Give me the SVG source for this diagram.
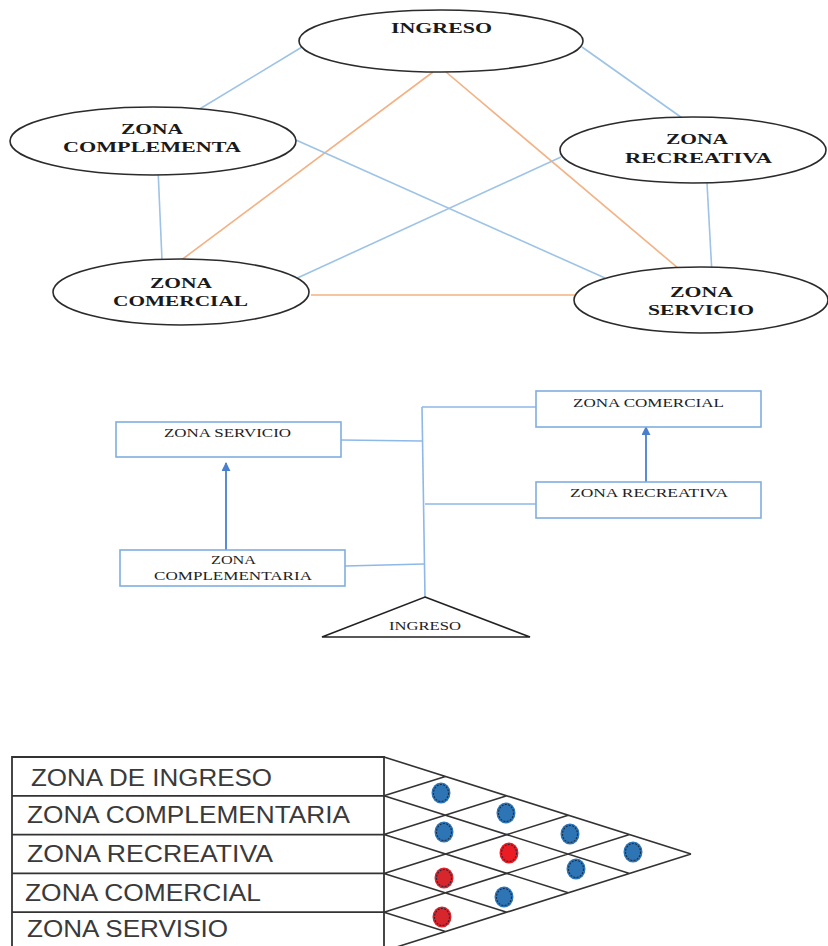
<svg xmlns="http://www.w3.org/2000/svg" width="828" height="946" viewBox="0 0 828 946">
<defs>
<style>
.ell{fill:#fff;stroke:#2b2b2b;stroke-width:1.6}
.t1{font-family:"Liberation Serif","Times New Roman",serif;font-weight:bold;font-size:15px;fill:#1a1a1a;text-anchor:middle}
.blue{stroke:#9DC3E6;stroke-width:1.6;fill:none}
.orange{stroke:#F4B183;stroke-width:1.6;fill:none}
.box{fill:#fff;stroke:#7FAEE0;stroke-width:1.6}
.t2{font-family:"Liberation Serif","Times New Roman",serif;font-size:12px;fill:#222;text-anchor:middle}
.con{stroke:#8DB8E8;stroke-width:1.6;fill:none}
.arr{stroke:#4A7FD0;stroke-width:1.8;fill:none}
.tri{fill:#fff;stroke:#222;stroke-width:1.6}
.tab{fill:none;stroke:#333;stroke-width:1.8}
.t3{font-family:"Liberation Sans",Arial,sans-serif;font-size:23.5px;fill:#3a3a3a}
.grid{stroke:#333;stroke-width:1.6;fill:none}
.db{fill:#2E75B6}
.dr{fill:#D7262C}
.dot{fill:none;stroke:#1c2a40;stroke-width:1.1;stroke-dasharray:2 1.3}
</style>
<marker id="ah" viewBox="0 0 10 10" refX="9" refY="5" markerWidth="5" markerHeight="5" orient="auto">
<path d="M0,0 L10,5 L0,10 z" fill="#4A7FD0"/>
</marker>
</defs>
<rect width="828" height="946" fill="#fff"/>

<!-- Section 1 connectors -->
<g id="connectors-top">
<line class="blue" x1="302" y1="47" x2="193" y2="113"/>
<line class="blue" x1="582" y1="47" x2="685" y2="120"/>
<line class="orange" x1="433" y1="72" x2="180" y2="261"/>
<line class="orange" x1="446" y1="72" x2="685" y2="274"/>
<line class="blue" x1="296" y1="140" x2="605" y2="278"/>
<line class="blue" x1="158" y1="169" x2="162" y2="260"/>
<line class="blue" x1="561" y1="157" x2="293" y2="280"/>
<line class="blue" x1="707" y1="183" x2="712" y2="274"/>
<line class="orange" x1="311" y1="295" x2="575" y2="295"/>
</g>

<g id="e-ingreso">
<ellipse class="ell" cx="441" cy="41" rx="142" ry="31"/>
<text class="t1" x="441.5" y="33" textLength="101" lengthAdjust="spacingAndGlyphs">INGRESO</text>
</g>
<g id="e-complementa">
<ellipse class="ell" cx="153" cy="141" rx="143" ry="34"/>
<text class="t1" x="152" y="134" textLength="62" lengthAdjust="spacingAndGlyphs">ZONA</text>
<text class="t1" x="152" y="152" textLength="178" lengthAdjust="spacingAndGlyphs">COMPLEMENTA</text>
</g>
<g id="e-recreativa">
<ellipse class="ell" cx="693" cy="150" rx="133" ry="33"/>
<text class="t1" x="697" y="144" textLength="62" lengthAdjust="spacingAndGlyphs">ZONA</text>
<text class="t1" x="698.5" y="163" textLength="147" lengthAdjust="spacingAndGlyphs">RECREATIVA</text>
</g>
<g id="e-comercial">
<ellipse class="ell" cx="181" cy="292" rx="128" ry="33"/>
<text class="t1" x="181" y="288" textLength="62" lengthAdjust="spacingAndGlyphs">ZONA</text>
<text class="t1" x="180.5" y="306" textLength="135" lengthAdjust="spacingAndGlyphs">COMERCIAL</text>
</g>
<g id="e-servicio">
<ellipse class="ell" cx="701" cy="300" rx="127" ry="33"/>
<text class="t1" x="701.5" y="297" textLength="63" lengthAdjust="spacingAndGlyphs">ZONA</text>
<text class="t1" x="701" y="315" textLength="106" lengthAdjust="spacingAndGlyphs">SERVICIO</text>
</g>

<!-- Section 2 -->
<g id="connectors-mid">
<line class="con" x1="422" y1="407" x2="425" y2="597"/>
<line class="con" x1="422" y1="407" x2="536" y2="407"/>
<line class="con" x1="341" y1="440" x2="422" y2="441"/>
<line class="con" x1="425" y1="504" x2="536" y2="504"/>
<line class="con" x1="345" y1="566" x2="424" y2="564"/>
<line class="arr" x1="226" y1="550" x2="226" y2="463" marker-end="url(#ah)"/>
<line class="arr" x1="646" y1="482" x2="646" y2="427" marker-end="url(#ah)"/>
</g>
<g id="b-servicio">
<rect class="box" x="116" y="422" width="225" height="35"/>
<text class="t2" x="227.5" y="437" textLength="127" lengthAdjust="spacingAndGlyphs">ZONA SERVICIO</text>
</g>
<g id="b-comercial">
<rect class="box" x="536" y="391" width="225" height="36"/>
<text class="t2" x="648.5" y="407" textLength="151" lengthAdjust="spacingAndGlyphs">ZONA COMERCIAL</text>
</g>
<g id="b-recreativa">
<rect class="box" x="536" y="482" width="225" height="36"/>
<text class="t2" x="649" y="497" textLength="158" lengthAdjust="spacingAndGlyphs">ZONA RECREATIVA</text>
</g>
<g id="b-complementaria">
<rect class="box" x="120" y="550" width="225" height="36"/>
<text class="t2" x="233.5" y="564" textLength="45" lengthAdjust="spacingAndGlyphs">ZONA</text>
<text class="t2" x="233" y="580" textLength="158" lengthAdjust="spacingAndGlyphs">COMPLEMENTARIA</text>
</g>
<g id="b-ingreso">
<polygon class="tri" points="425,597 530,637 322,637"/>
<text class="t2" x="425" y="630" textLength="72" lengthAdjust="spacingAndGlyphs">INGRESO</text>
</g>

<!-- Section 3 -->
<g id="table">
<path class="tab" d="M12,948 L12,757 L384,757 L384,948 M12,795.8 H384 M12,834.6 H384 M12,873.4 H384 M12,912.2 H384"/>
<text class="t3" x="31" y="786" textLength="241" lengthAdjust="spacingAndGlyphs">ZONA DE INGRESO</text>
<text class="t3" x="27" y="823" textLength="323" lengthAdjust="spacingAndGlyphs">ZONA COMPLEMENTARIA</text>
<text class="t3" x="27" y="862" textLength="246" lengthAdjust="spacingAndGlyphs">ZONA RECREATIVA</text>
<text class="t3" x="25" y="901" textLength="236" lengthAdjust="spacingAndGlyphs">ZONA COMERCIAL</text>
<text class="t3" x="27" y="937" textLength="201" lengthAdjust="spacingAndGlyphs">ZONA SERVISIO</text>
</g>
<g id="matrix">
<path class="grid" d="M384,757 L691,854 M384,795.8 L629.6,873.4 M384,834.6 L568.2,892.8 M384,873.4 L506.8,912.2 M384,912.2 L445.4,931.6 M384,795.8 L445.4,776.4 M384,834.6 L506.8,795.8 M384,873.4 L568.2,815.2 M384,912.2 L629.6,834.6 M384,951 L691,854"/>
<g id="dots">
<ellipse class="db" cx="441" cy="793" rx="9.5" ry="10.5"/><ellipse class="dot" cx="441" cy="793" rx="7.5" ry="8.5"/>
<ellipse class="db" cx="506" cy="813" rx="9.5" ry="10.5"/><ellipse class="dot" cx="506" cy="813" rx="7.5" ry="8.5"/>
<ellipse class="db" cx="444" cy="832" rx="9.5" ry="10.5"/><ellipse class="dot" cx="444" cy="832" rx="7.5" ry="8.5"/>
<ellipse class="db" cx="570" cy="834" rx="9.5" ry="10.5"/><ellipse class="dot" cx="570" cy="834" rx="7.5" ry="8.5"/>
<ellipse class="dr" cx="509" cy="853" rx="9.5" ry="10.5" style="fill:#EC1C24"/><ellipse class="dot" cx="509" cy="853" rx="7.5" ry="8.5"/>
<ellipse class="db" cx="633" cy="852" rx="9.5" ry="10.5"/><ellipse class="dot" cx="633" cy="852" rx="7.5" ry="8.5"/>
<ellipse class="db" cx="576" cy="869" rx="9.5" ry="10.5"/><ellipse class="dot" cx="576" cy="869" rx="7.5" ry="8.5"/>
<ellipse class="dr" cx="444" cy="878" rx="9.5" ry="10.5"/><ellipse class="dot" cx="444" cy="878" rx="7.5" ry="8.5"/>
<ellipse class="db" cx="504" cy="897" rx="9.5" ry="10.5"/><ellipse class="dot" cx="504" cy="897" rx="7.5" ry="8.5"/>
<ellipse class="dr" cx="442" cy="917" rx="9.5" ry="10.5"/><ellipse class="dot" cx="442" cy="917" rx="7.5" ry="8.5"/>
</g>
</g>
</svg>
